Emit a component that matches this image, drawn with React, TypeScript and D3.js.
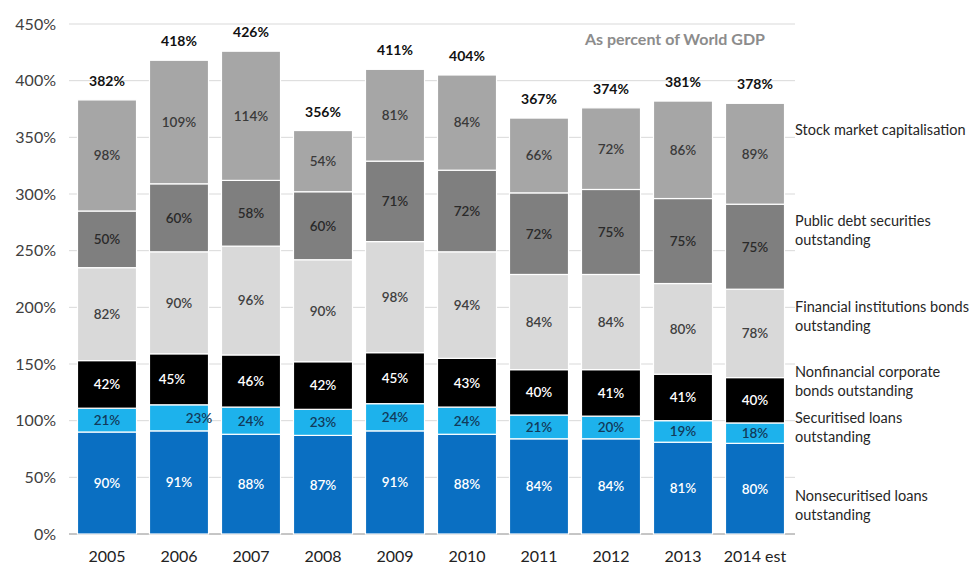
import * as d3 from 'd3'
import React from 'react'

const years = ['2005', '2006', '2007', '2008', '2009', '2010', '2011', '2012', '2013', '2014 est']
const totals = [382, 418, 426, 356, 411, 404, 367, 374, 381, 378]

const nonsecLoans = [90, 91, 88, 87, 91, 88, 84, 84, 81, 80]
const secLoans = [21, 23, 24, 23, 24, 24, 21, 20, 19, 18]
const corpBonds = [42, 45, 46, 42, 45, 43, 40, 41, 41, 40]
const finBonds = [82, 90, 96, 90, 98, 94, 84, 84, 80, 78]
const publicDebt = [50, 60, 58, 60, 71, 72, 72, 75, 75, 75]
const stockCap = [98, 109, 114, 54, 81, 84, 66, 72, 86, 89]

const yTicks = [0, 50, 100, 150, 200, 250, 300, 350, 400, 450]

const series = [
  { key: 'nonsec', values: nonsecLoans, fill: '#0a6fc2', text: '#ffffff', legend: ['Nonsecuritised loans', 'outstanding'] },
  { key: 'sec', values: secLoans, fill: '#1db2ec', text: '#123a5a', legend: ['Securitised loans', 'outstanding'] },
  { key: 'corp', values: corpBonds, fill: '#000000', text: '#ffffff', legend: ['Nonfinancial corporate', 'bonds outstanding'] },
  { key: 'fin', values: finBonds, fill: '#d9d9d9', text: '#404040', legend: ['Financial institutions bonds', 'outstanding'] },
  { key: 'pub', values: publicDebt, fill: '#7f7f7f', text: '#2a2a2a', legend: ['Public debt securities', 'outstanding'] },
  { key: 'stock', values: stockCap, fill: '#a6a6a6', text: '#3a3a3a', legend: ['Stock market capitalisation'] },
]

// small label nudges seen in the original (2006 labels sit off-centre)
const labelNudge: Record<string, number> = { 'sec-2006': 20, 'corp-2006': -7 }

const W = 976
const H = 567
const margin = { left: 71, right: 185, top: 24, bottom: 33 }
const font = 'Lato, "Open Sans", sans-serif'

export default function App() {
  const x = d3
    .scaleBand<string>()
    .domain(years)
    .range([margin.left, W - margin.right])
    .paddingInner(0.18)
    .paddingOuter(0.09)

  const y = d3
    .scaleLinear()
    .domain([0, 450])
    .range([H - margin.bottom, margin.top])

  const rows = years.map((yr, i) => {
    const r: Record<string, number | string> = { year: yr }
    series.forEach((s) => (r[s.key] = s.values[i]))
    return r
  })

  const stacked = d3.stack<Record<string, number | string>>().keys(series.map((s) => s.key))(rows as any)

  const legendY = [505, 427, 381, 316, 230, 130]

  return (
    <svg width={W} height={H} style={{ position: 'absolute', left: 0, top: 0, background: '#fff' }} fontFamily={font}>
      {yTicks.map((t) => (
        <g key={t}>
          {t > 0 && (
            <line x1={margin.left - 2} x2={W - margin.right + 4} y1={y(t)} y2={y(t)} stroke="#d9d9d9" strokeWidth={1} />
          )}
          <text x={56} y={y(t)} dy="0.35em" textAnchor="end" fontSize={16} fill="#404040">
            {t}%
          </text>
        </g>
      ))}
      <line x1={margin.left - 2} x2={W - margin.right + 4} y1={y(0)} y2={y(0)} stroke="#8c8c8c" strokeWidth={1} />

      {stacked.map((layer, si) => (
        <g key={layer.key}>
          {layer.map((d, i) => {
            const yr = years[i]
            const bx = x(yr)!
            const top = y(d[1])
            const bot = y(d[0])
            const s = series[si]
            const nudge = labelNudge[`${s.key}-${yr}`] || 0
            return (
              <g key={yr}>
                <rect x={bx} y={top} width={x.bandwidth()} height={bot - top} fill={s.fill} stroke="#fff" strokeWidth={1.2} />
                <text
                  x={bx + x.bandwidth() / 2 + nudge}
                  y={(top + bot) / 2}
                  dy="0.36em"
                  textAnchor="middle"
                  fontSize={13.5}
                  fontWeight={600}
                  fill={s.text}
                >
                  {s.values[i]}%
                </text>
              </g>
            )
          })}
        </g>
      ))}

      {years.map((yr, i) => {
        const top = y(stacked[stacked.length - 1][i][1])
        return (
          <text
            key={yr}
            x={x(yr)! + x.bandwidth() / 2}
            y={top - 14}
            textAnchor="middle"
            fontSize={14}
            fontWeight={700}
            fill="#111"
          >
            {totals[i]}%
          </text>
        )
      })}

      {years.map((yr) => (
        <text key={yr} x={x(yr)! + x.bandwidth() / 2} y={562} textAnchor="middle" fontSize={16} fill="#222">
          {yr}
        </text>
      ))}

      <text x={765} y={45} textAnchor="end" fontSize={16} fontWeight={700} fill="#8c8c8c">
        As percent of World GDP
      </text>

      {series.map((s, si) => (
        <text key={s.key} x={795} y={legendY[si] - (s.legend.length - 1) * 9.5} fontSize={14.5} fill="#262626">
          {s.legend.map((line, li) => (
            <tspan key={li} x={795} dy={li === 0 ? '0.35em' : 19.5}>
              {line}
            </tspan>
          ))}
        </text>
      ))}
    </svg>
  )
}
